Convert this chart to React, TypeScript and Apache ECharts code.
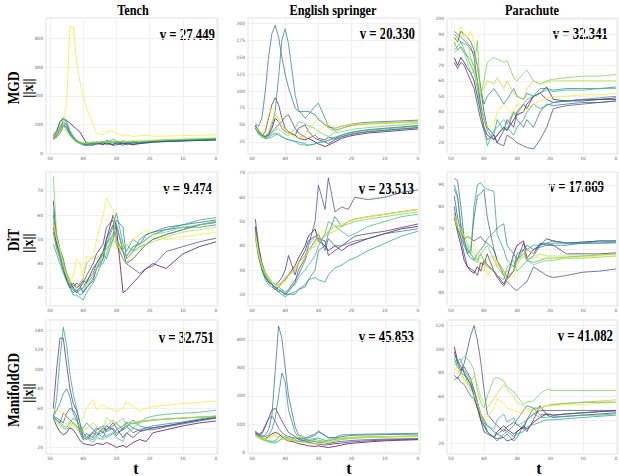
import React, { useEffect, useRef } from 'react';
import * as echarts from 'echarts';

// time steps (x values), shared by every panel
const T = [49, 48, 47, 46, 45, 44, 43, 42, 41, 40, 39, 37, 36, 34, 33, 31, 30, 28, 27, 25, 23, 21, 19, 15, 10, 5, 0];

const columnTitles = ['Tench', 'English springer', 'Parachute'];
const rowTitles = ['MGD', 'DiT', 'ManifoldGD'];
const vTexts = ['v = 27.449', 'v = 20.330', 'v = 32.341', 'v = 9.474', 'v = 23.513', 'v = 17.869', 'v = 32.751', 'v = 45.853', 'v = 41.082'];
const xTitle = 't';
const yTitle = '||x||';

// MGD
const mgdTench = [
  [60, 75, 110, 120, 115, 105, 95, 85, 75, 55, 35, 30, 38, 32, 35, 30, 38, 33, 36, 30, 34, 38, 40, 42, 44, 46, 48],
  [55, 65, 85, 100, 90, 70, 55, 45, 38, 30, 28, 32, 35, 30, 40, 28, 30, 35, 32, 38, 35, 37, 40, 42, 44, 46, 47],
  [50, 55, 70, 95, 85, 65, 50, 40, 35, 32, 30, 28, 35, 38, 30, 40, 35, 28, 35, 30, 38, 36, 39, 41, 43, 45, 47],
  [60, 70, 90, 110, 100, 75, 55, 42, 38, 35, 32, 36, 30, 40, 35, 32, 42, 36, 30, 38, 34, 39, 41, 43, 45, 47, 49],
  [55, 60, 80, 105, 95, 70, 50, 42, 36, 30, 38, 34, 40, 35, 45, 38, 33, 40, 38, 35, 40, 39, 42, 44, 46, 48, 50],
  [65, 80, 110, 125, 110, 80, 60, 45, 40, 35, 33, 40, 36, 42, 38, 50, 42, 35, 40, 37, 42, 41, 43, 45, 47, 49, 51],
  [50, 60, 85, 120, 105, 75, 55, 40, 35, 30, 28, 35, 40, 36, 45, 38, 40, 42, 38, 40, 43, 42, 44, 46, 48, 50, 52],
  [55, 65, 95, 110, 90, 70, 50, 42, 38, 33, 36, 30, 38, 40, 36, 42, 38, 45, 40, 42, 40, 43, 45, 47, 49, 51, 53],
  [48, 55, 70, 85, 75, 60, 48, 40, 36, 38, 35, 40, 37, 42, 40, 38, 44, 40, 42, 45, 42, 44, 46, 48, 50, 52, 54],
  [60, 70, 85, 100, 170, 440, 440, 320, 250, 200, 160, 100, 70, 65, 75, 78, 70, 60, 65, 58, 62, 62, 60, 60, 62, 63, 65],
];
const mgdSpringer = [
  [48, 40, 35, 32, 35, 45, 60, 55, 45, 40, 38, 35, 30, 28, 30, 25, 22, 18, 20, 25, 30, 33, 35, 38, 40, 42, 44],
  [45, 38, 34, 40, 60, 80, 90, 80, 60, 45, 40, 35, 45, 50, 40, 30, 28, 25, 22, 28, 32, 35, 37, 40, 42, 44, 46],
  [50, 42, 36, 33, 35, 40, 45, 50, 55, 62, 65, 45, 38, 32, 30, 35, 30, 28, 32, 30, 35, 38, 40, 43, 45, 47, 49],
  [52, 48, 60, 100, 150, 185, 197, 180, 150, 125, 105, 75, 70, 70, 70, 65, 58, 50, 47, 45, 48, 50, 52, 54, 55, 56, 57],
  [48, 40, 35, 33, 38, 50, 70, 120, 175, 192, 170, 95, 72, 60, 65, 78, 82, 60, 48, 42, 45, 48, 50, 52, 53, 54, 55],
  [46, 38, 33, 30, 32, 35, 38, 35, 32, 30, 28, 26, 25, 22, 20, 22, 24, 25, 27, 30, 33, 36, 38, 40, 42, 44, 46],
  [45, 36, 32, 30, 30, 32, 35, 38, 33, 30, 28, 25, 22, 20, 20, 22, 24, 26, 28, 32, 35, 38, 40, 42, 44, 46, 48],
  [44, 38, 34, 31, 33, 38, 42, 45, 40, 36, 34, 45, 55, 52, 48, 45, 40, 35, 33, 38, 40, 42, 44, 46, 48, 50, 52],
  [47, 40, 36, 34, 40, 55, 65, 60, 50, 42, 38, 32, 30, 35, 45, 55, 60, 52, 45, 40, 45, 48, 50, 51, 52, 53, 54],
  [46, 42, 38, 45, 65, 75, 70, 55, 45, 40, 38, 36, 34, 30, 32, 35, 40, 50, 52, 45, 48, 50, 51, 52, 53, 54, 55],
];
const mgdParachute = [
  [75, 70, 75, 72, 68, 65, 60, 50, 40, 30, 25, 22, 25, 30, 28, 35, 38, 40, 45, 50, 52, 56, 48, 47, 47, 48, 48],
  [72, 68, 72, 70, 65, 60, 55, 45, 35, 28, 22, 25, 20, 28, 35, 30, 40, 45, 42, 50, 52, 48, 46, 47, 48, 48, 49],
  [88, 85, 92, 90, 88, 85, 80, 70, 55, 40, 30, 25, 20, 18, 25, 22, 20, 18, 17, 16, 22, 30, 42, 44, 45, 46, 47],
  [92, 90, 88, 86, 84, 82, 75, 60, 45, 35, 28, 22, 25, 30, 28, 40, 35, 30, 35, 30, 40, 45, 44, 45, 46, 46, 47],
  [90, 88, 85, 84, 83, 80, 78, 70, 55, 45, 50, 55, 52, 45, 48, 55, 50, 48, 52, 50, 55, 55, 54, 55, 55, 55, 56],
  [85, 80, 82, 78, 76, 74, 70, 60, 45, 35, 30, 25, 35, 28, 30, 25, 30, 35, 40, 45, 42, 44, 46, 47, 48, 49, 50],
  [80, 82, 85, 80, 75, 70, 65, 55, 40, 30, 18, 28, 30, 35, 32, 40, 38, 45, 48, 50, 52, 54, 53, 54, 54, 55, 55],
  [78, 80, 82, 78, 72, 65, 66, 86, 50, 60, 72, 75, 74, 72, 73, 62, 60, 65, 67, 60, 58, 60, 61, 62, 63, 63, 64],
  [86, 90, 92, 88, 85, 75, 65, 60, 52, 55, 60, 58, 62, 55, 60, 52, 50, 48, 55, 60, 58, 59, 60, 60, 60, 60, 60],
  [82, 88, 95, 90, 88, 92, 85, 70, 50, 35, 30, 32, 40, 45, 42, 38, 45, 40, 42, 45, 47, 49, 50, 50, 51, 51, 52],
];
// DiT
const ditTench = [
  [55, 48, 44, 38, 33, 30, 32, 30, 31, 33, 32, 38, 40, 45, 50, 60, 55, 28, 29, 32, 35, 38, 40, 38, 44, 47, 49],
  [66, 50, 45, 40, 35, 32, 30, 28, 30, 32, 35, 40, 44, 48, 55, 58, 50, 45, 40, 42, 45, 48, 50, 52, 54, 56, 57],
  [60, 52, 46, 42, 36, 33, 30, 32, 31, 28, 30, 33, 38, 42, 50, 56, 48, 42, 40, 38, 36, 38, 39, 45, 47, 49, 50.5],
  [57, 48, 43, 38, 34, 31, 29, 28, 29, 30, 33, 36, 40, 44, 48, 52, 56, 45, 43, 47, 48, 52, 53, 55, 56, 57, 58],
  [53, 46, 42, 37, 33, 30, 28, 29, 27, 28, 30, 34, 38, 44, 42, 50, 58, 55, 42, 45, 50, 52, 53, 54, 55, 55, 56],
  [48, 44, 40, 36, 33, 30, 27, 27, 26, 25, 28, 32, 35, 42, 48, 55, 61, 48, 45, 50, 48, 50, 52, 54, 56, 58, 59],
  [62, 50, 45, 40, 35, 32, 30, 29, 30, 28, 32, 35, 38, 40, 44, 52, 56, 46, 48, 45, 47, 48, 50, 52, 54, 56, 57.5],
  [76, 52, 44, 38, 35, 33, 31, 30, 32, 34, 40, 43, 42, 45, 46, 50, 48, 45, 43, 46, 48, 50, 52, 53, 55, 56, 57],
  [58, 50, 45, 40, 36, 33, 31, 30, 32, 34, 31, 35, 38, 44, 46, 52, 50, 42, 40, 45, 46, 48, 49, 51, 53, 54, 55],
  [56, 50, 46, 40, 35, 32, 35, 42, 40, 35, 43, 42, 50, 60, 67, 62, 46, 48, 47, 50, 52, 54, 52, 50, 51, 52, 53],
];
const ditSpringer = [
  [48, 38, 32, 28, 25, 24, 22, 23, 25, 26, 28, 32, 35, 40, 44, 47, 42, 40, 38, 40, 38, 40, 41, 43, 45, 47, 48],
  [51, 40, 33, 29, 27, 25, 24, 25, 27, 30, 36, 28, 33, 38, 42, 44, 43, 42, 36, 38, 40, 42, 44, 45, 46, 47.5, 49],
  [47, 38, 31, 27, 25, 24, 23, 22, 21, 20, 21, 25, 30, 35, 40, 50, 65, 55, 68, 54, 56, 55, 60, 59, 60, 62, 63],
  [46, 36, 30, 27, 26, 24, 23, 21, 22, 20, 22, 26, 28, 34, 38, 42, 45, 38, 43, 40, 40, 41, 42, 43, 45, 46, 47],
  [44, 35, 30, 26, 24, 23, 22, 21, 20, 19, 20, 21, 22, 23, 26, 30, 38, 40, 45, 52, 48, 50, 51, 52, 53, 54, 55],
  [45, 36, 31, 27, 25, 24, 23, 22, 21, 20, 20, 20, 22, 24, 26, 27, 26, 25, 28, 31, 32, 34, 35, 38, 41, 44, 46],
  [47, 37, 31, 28, 26, 25, 24, 23, 22, 21, 22, 24, 27, 30, 32, 36, 40, 45, 50, 48, 46, 44, 45, 48, 50, 52, 53],
  [46, 37, 32, 28, 26, 25, 24, 24, 25, 27, 28, 30, 33, 36, 40, 44, 42, 44, 46, 48, 48, 49, 50, 51, 52, 53, 54],
  [44, 36, 31, 28, 26, 25, 24, 23, 25, 26, 28, 31, 33, 36, 38, 40, 42, 44, 45, 46, 48, 50, 51, 52, 53, 54, 55],
  [45, 37, 32, 29, 27, 25, 24, 23, 24, 25, 27, 30, 32, 35, 38, 40, 45, 47, 46, 48, 49, 50, 51, 52, 53, 54, 55],
];
const ditParachute = [
  [75, 68, 62, 55, 52, 50, 49, 52, 50, 55, 53, 50, 48, 44, 47, 58, 62, 64, 56, 60, 62, 65, 64, 63, 63.5, 64, 64],
  [80, 70, 65, 58, 52, 51, 50, 48, 54, 53, 58, 50, 47, 43, 46, 50, 55, 63, 60, 58, 63, 62, 62, 58, 58, 58, 58.5],
  [85, 75, 68, 65, 66, 65, 64, 65, 66, 64, 63, 60, 55, 48, 45, 42, 41, 44, 45, 52, 50, 48, 47, 48, 49.5, 50, 51],
  [93, 92, 80, 65, 58, 60, 75, 85, 86, 88, 75, 60, 55, 50, 47, 50, 58, 60, 55, 57, 62, 63, 62, 62, 63, 63, 63.5],
  [90, 85, 70, 62, 58, 56, 55, 58, 60, 62, 65, 68, 70, 72, 62, 58, 55, 60, 62, 60, 61, 62, 63, 63, 63, 64, 64],
  [88, 84, 72, 64, 60, 58, 80, 90, 91, 89, 88, 87, 67, 60, 55, 52, 55, 58, 60, 62, 62, 63, 64, 63, 63, 63, 63],
  [77, 70, 66, 62, 60, 58, 56, 55, 58, 55, 52, 50, 48, 46, 52, 55, 50, 53, 55, 54, 55, 56, 56, 56.5, 57, 57.5, 58],
  [76, 70, 67, 64, 62, 58, 55, 54, 58, 60, 62, 55, 52, 48, 50, 53, 54, 57, 55, 53, 54, 55, 55, 56, 56, 56.5, 57],
  [74, 70, 68, 66, 63, 60, 58, 56, 52, 50, 55, 57, 53, 50, 48, 50, 55, 58, 56, 56, 58, 57, 57, 57, 57, 57.5, 58],
  [76, 72, 69, 66, 68, 65, 62, 58, 56, 55, 48, 52, 55, 50, 45, 47, 52, 58, 60, 58, 56, 56, 56, 56, 56.5, 57, 57],
];
// ManifoldGD
const mfgTench = [
  [50, 42, 36, 33, 35, 40, 38, 33, 27, 24, 23, 22, 24, 23, 25, 22, 20, 22, 20, 25, 28, 26, 35, 38, 42, 45, 47],
  [60, 100, 132, 132, 105, 80, 65, 58, 45, 30, 28, 35, 32, 40, 38, 45, 40, 30, 35, 30, 36, 38, 40, 42, 45, 48, 50],
  [52, 50, 48, 45, 55, 60, 58, 52, 35, 28, 30, 36, 40, 35, 42, 38, 32, 40, 42, 35, 38, 40, 40, 42, 45, 48, 51],
  [50, 48, 45, 55, 52, 48, 45, 42, 38, 30, 34, 30, 38, 42, 36, 40, 35, 38, 45, 40, 37, 38, 38, 41, 44, 47, 50],
  [52, 58, 65, 75, 80, 72, 55, 48, 38, 40, 45, 38, 35, 30, 38, 42, 45, 38, 40, 48, 42, 40, 42, 44, 46, 49, 52],
  [50, 70, 110, 143, 125, 95, 75, 60, 45, 35, 30, 28, 32, 36, 30, 34, 38, 42, 46, 44, 46, 47, 48, 49, 50, 51, 52],
  [52, 48, 46, 42, 40, 45, 50, 48, 42, 35, 30, 25, 30, 28, 32, 35, 30, 26, 34, 40, 45, 50, 52, 54, 55, 56, 58],
  [50, 47, 44, 40, 38, 42, 45, 40, 35, 30, 28, 32, 35, 38, 42, 48, 45, 50, 42, 45, 47, 47, 48, 49, 50, 51, 52],
  [48, 46, 42, 40, 43, 46, 44, 42, 38, 36, 40, 45, 42, 38, 50, 46, 44, 40, 42, 45, 46, 47, 48, 49, 50, 51, 52],
  [59, 58, 57, 56, 50, 45, 42, 40, 45, 50, 60, 69, 59, 64, 61, 58, 57, 60, 67, 62, 57, 60, 62, 63, 65, 66, 67.5],
];
const mfgSpringer = [
  [65, 55, 50, 48, 55, 65, 70, 65, 55, 45, 40, 35, 30, 25, 22, 20, 22, 18, 16, 20, 25, 30, 32, 36, 40, 42, 44],
  [70, 60, 65, 90, 120, 150, 156, 135, 111, 90, 70, 55, 45, 40, 35, 30, 28, 25, 26, 30, 32, 35, 37, 40, 43, 45, 46],
  [75, 65, 70, 95, 118, 128, 110, 85, 70, 60, 55, 50, 48, 46, 40, 38, 35, 32, 30, 35, 38, 40, 42, 44, 46, 47, 48],
  [68, 60, 55, 60, 80, 130, 288, 450, 406, 300, 200, 90, 62, 52, 50, 60, 72, 60, 52, 50, 55, 58, 60, 61, 62, 63, 64],
  [72, 62, 58, 55, 60, 80, 120, 200, 282, 250, 150, 70, 52, 48, 55, 65, 75, 58, 50, 52, 61, 62, 63, 64, 65, 66, 67],
  [60, 55, 50, 45, 40, 38, 40, 55, 60, 52, 45, 40, 38, 42, 45, 48, 50, 42, 40, 45, 48, 50, 52, 54, 55, 56, 57],
  [62, 52, 45, 40, 35, 33, 32, 38, 50, 55, 48, 42, 38, 35, 40, 45, 42, 38, 35, 40, 45, 48, 50, 52, 54, 55, 56],
  [58, 50, 45, 42, 40, 38, 35, 40, 45, 48, 52, 46, 40, 36, 32, 30, 35, 40, 44, 48, 50, 52, 53, 54, 55, 56, 58],
  [65, 55, 50, 48, 50, 55, 60, 55, 50, 45, 42, 50, 58, 52, 45, 40, 38, 36, 35, 40, 45, 48, 50, 52, 53, 54, 55],
  [60, 52, 48, 45, 50, 58, 65, 70, 60, 50, 45, 40, 35, 32, 30, 28, 30, 32, 35, 42, 48, 52, 53, 54, 55, 56, 57],
];
const mfgParachute = [
  [102, 90, 85, 80, 75, 70, 60, 50, 40, 35, 30, 25, 30, 35, 32, 28, 30, 35, 32, 38, 42, 45, 44, 45, 46, 47, 48],
  [98, 88, 82, 85, 80, 75, 65, 55, 40, 30, 28, 25, 24, 25, 22, 24, 30, 34, 30, 40, 52, 44, 42, 43, 44, 45, 46],
  [78, 75, 80, 88, 100, 112, 120, 108, 90, 66, 45, 38, 35, 30, 34, 38, 36, 32, 40, 45, 48, 48, 48, 48, 48, 48, 48],
  [74, 76, 72, 70, 65, 60, 58, 50, 45, 40, 35, 30, 28, 25, 28, 22, 25, 35, 40, 50, 44, 45, 44, 45, 46, 47, 47.5],
  [92, 85, 80, 78, 75, 70, 65, 55, 45, 35, 30, 25, 28, 32, 30, 35, 40, 48, 52, 50, 50, 52, 53, 54, 55, 55, 55],
  [95, 90, 92, 80, 72, 68, 60, 55, 45, 40, 30, 25, 22, 28, 30, 26, 28, 30, 34, 36, 38, 40, 40, 41, 42, 43, 44],
  [90, 88, 85, 82, 78, 72, 65, 55, 45, 38, 35, 32, 40, 45, 38, 42, 35, 38, 40, 45, 42, 42, 43, 43, 44, 44, 45],
  [88, 85, 90, 94, 92, 88, 82, 65, 55, 50, 60, 75, 76, 73, 68, 64, 60, 53, 55, 56, 62, 66, 65, 65, 65, 65, 65],
  [82, 85, 80, 75, 70, 72, 78, 70, 60, 55, 50, 58, 62, 70, 66, 60, 55, 52, 50, 48, 50, 52, 53, 54, 55, 56, 57],
  [80, 82, 78, 72, 70, 65, 60, 55, 45, 38, 42, 50, 58, 54, 50, 48, 47, 45, 48, 46, 50, 52, 52, 53, 53, 54, 54.5],
];

const panelData = [mgdTench, mgdSpringer, mgdParachute, ditTench, ditSpringer, ditParachute, mfgTench, mfgSpringer, mfgParachute];

// axis settings
const yMin = [-2, 7, 12.8, 22.5, 15.2, 33.8, 13.2, -7, 11];
const yMax = [471, 208, 100.5, 77.8, 70.4, 96, 150.5, 471, 124.8];
const yStep = [100, 25, 10, 10, 10, 10, 20, 100, 20];
const xMin = -0.6;
const xMax = 51.2;
const xStep = 10;

const viridis = ['#440154', '#482878', '#3e4989', '#31688e', '#26828e', '#1f9e89', '#35b779', '#6ece58', '#b5de2b', '#fde725'];

const colLeft = [46, 248, 447];
const colWidth = [172, 172, 171];
const rowTop = [18, 172, 320];
const rowHeight = [136, 134, 134];

const titleX = [133, 333, 532];
const rowLabelY = [88, 240, 390];
const vRight = [215, 415, 608, 212, 414, 604, 214, 414, 613];
const vY = [34, 33, 33, 188, 188, 186, 337, 336, 335];
const tX = [136, 349, 539];

const SERIF = '"Liberation Serif", "Times New Roman", serif';

function tickFormatter(step: number) {
  return (v: number) => {
    const q = v / step;
    return Math.abs(q - Math.round(q)) < 1e-6 ? String(Math.round(v * 1000) / 1000) : '';
  };
}

export default function App() {
  const ref = useRef<HTMLDivElement>(null);
  useEffect(() => {
    if (!ref.current) return;
    const chart = echarts.init(ref.current, null, { renderer: 'svg' });
    const grids: any[] = [];
    const xAxes: any[] = [];
    const yAxes: any[] = [];
    const series: any[] = [];
    const labelStyle = { fontSize: 4.5, color: '#666', fontFamily: 'DejaVu Sans' };
    for (let r = 0; r < 3; r++) {
      for (let c = 0; c < 3; c++) {
        const i = r * 3 + c;
        grids.push({
          left: colLeft[c], top: rowTop[r], width: colWidth[c], height: rowHeight[r],
          show: true, borderColor: '#e2e2e2', borderWidth: 1, backgroundColor: '#ffffff',
          containLabel: false, outerBoundsMode: 'none',
        });
        xAxes.push({
          type: 'value', gridIndex: i, inverse: true, min: xMin, max: xMax,
          minInterval: xStep, maxInterval: xStep, splitNumber: 5,
          axisLine: { show: false }, axisTick: { show: false },
          splitLine: { show: true, lineStyle: { color: '#f0f0f0', width: 1 } },
          axisLabel: { ...labelStyle, margin: 1.5, formatter: tickFormatter(xStep) },
        });
        yAxes.push({
          type: 'value', gridIndex: i, min: yMin[i], max: yMax[i],
          minInterval: yStep[i], maxInterval: yStep[i], splitNumber: 5,
          axisLine: { show: false }, axisTick: { show: false },
          splitLine: { show: true, lineStyle: { color: '#f0f0f0', width: 1 } },
          axisLabel: { ...labelStyle, margin: 3, formatter: tickFormatter(yStep[i]) },
        });
        panelData[i].forEach((vals, j) => {
          series.push({
            type: 'line', xAxisIndex: i, yAxisIndex: i, symbol: 'none', silent: true,
            data: T.map((t, k) => [t, vals[k]]),
            lineStyle: { width: 1, color: viridis[j], opacity: 0.72 },
            itemStyle: { color: viridis[j] },
          });
        });
      }
    }
    const graphics: any[] = [];
    columnTitles.forEach((txt, c) => {
      graphics.push({
        type: 'text', x: titleX[c], y: 10, scaleX: 0.82,
        style: { text: txt, font: `bold 15px ${SERIF}`, fill: '#000', textAlign: 'center', textVerticalAlign: 'middle', align: 'center', verticalAlign: 'middle' },
      });
    });
    rowTitles.forEach((txt, r) => {
      graphics.push({
        type: 'text', x: 12.5, y: rowLabelY[r], rotation: Math.PI / 2, scaleX: 0.8,
        style: { text: txt, font: `bold 17px ${SERIF}`, fill: '#000', textAlign: 'center', textVerticalAlign: 'middle', align: 'center', verticalAlign: 'middle' },
      });
      graphics.push({
        type: 'text', x: 28, y: rowLabelY[r] + (r === 0 ? 0 : 3), rotation: Math.PI / 2,
        style: { text: yTitle, font: `bold 14px ${SERIF}`, fill: '#000', textAlign: 'center', textVerticalAlign: 'middle', align: 'center', verticalAlign: 'middle' },
      });
    });
    vTexts.forEach((txt, i) => {
      graphics.push({
        type: 'text', x: vRight[i], y: vY[i], scaleX: 0.8,
        style: { text: txt, font: `bold 16px ${SERIF}`, fill: '#000', textAlign: 'right', textVerticalAlign: 'middle', align: 'right', verticalAlign: 'middle' },
      });
    });
    tX.forEach((x) => {
      graphics.push({
        type: 'text', x, y: 468,
        style: { text: xTitle, font: `bold 16px ${SERIF}`, fill: '#000', textAlign: 'center', textVerticalAlign: 'middle', align: 'center', verticalAlign: 'middle' },
      });
    });
    chart.setOption({
      animation: false,
      backgroundColor: '#ffffff',
      grid: grids,
      xAxis: xAxes,
      yAxis: yAxes,
      series,
      graphic: graphics,
    });
    return () => chart.dispose();
  }, []);
  return <div ref={ref} style={{ position: 'absolute', left: 0, top: 0, width: 619, height: 476 }} />;
}
